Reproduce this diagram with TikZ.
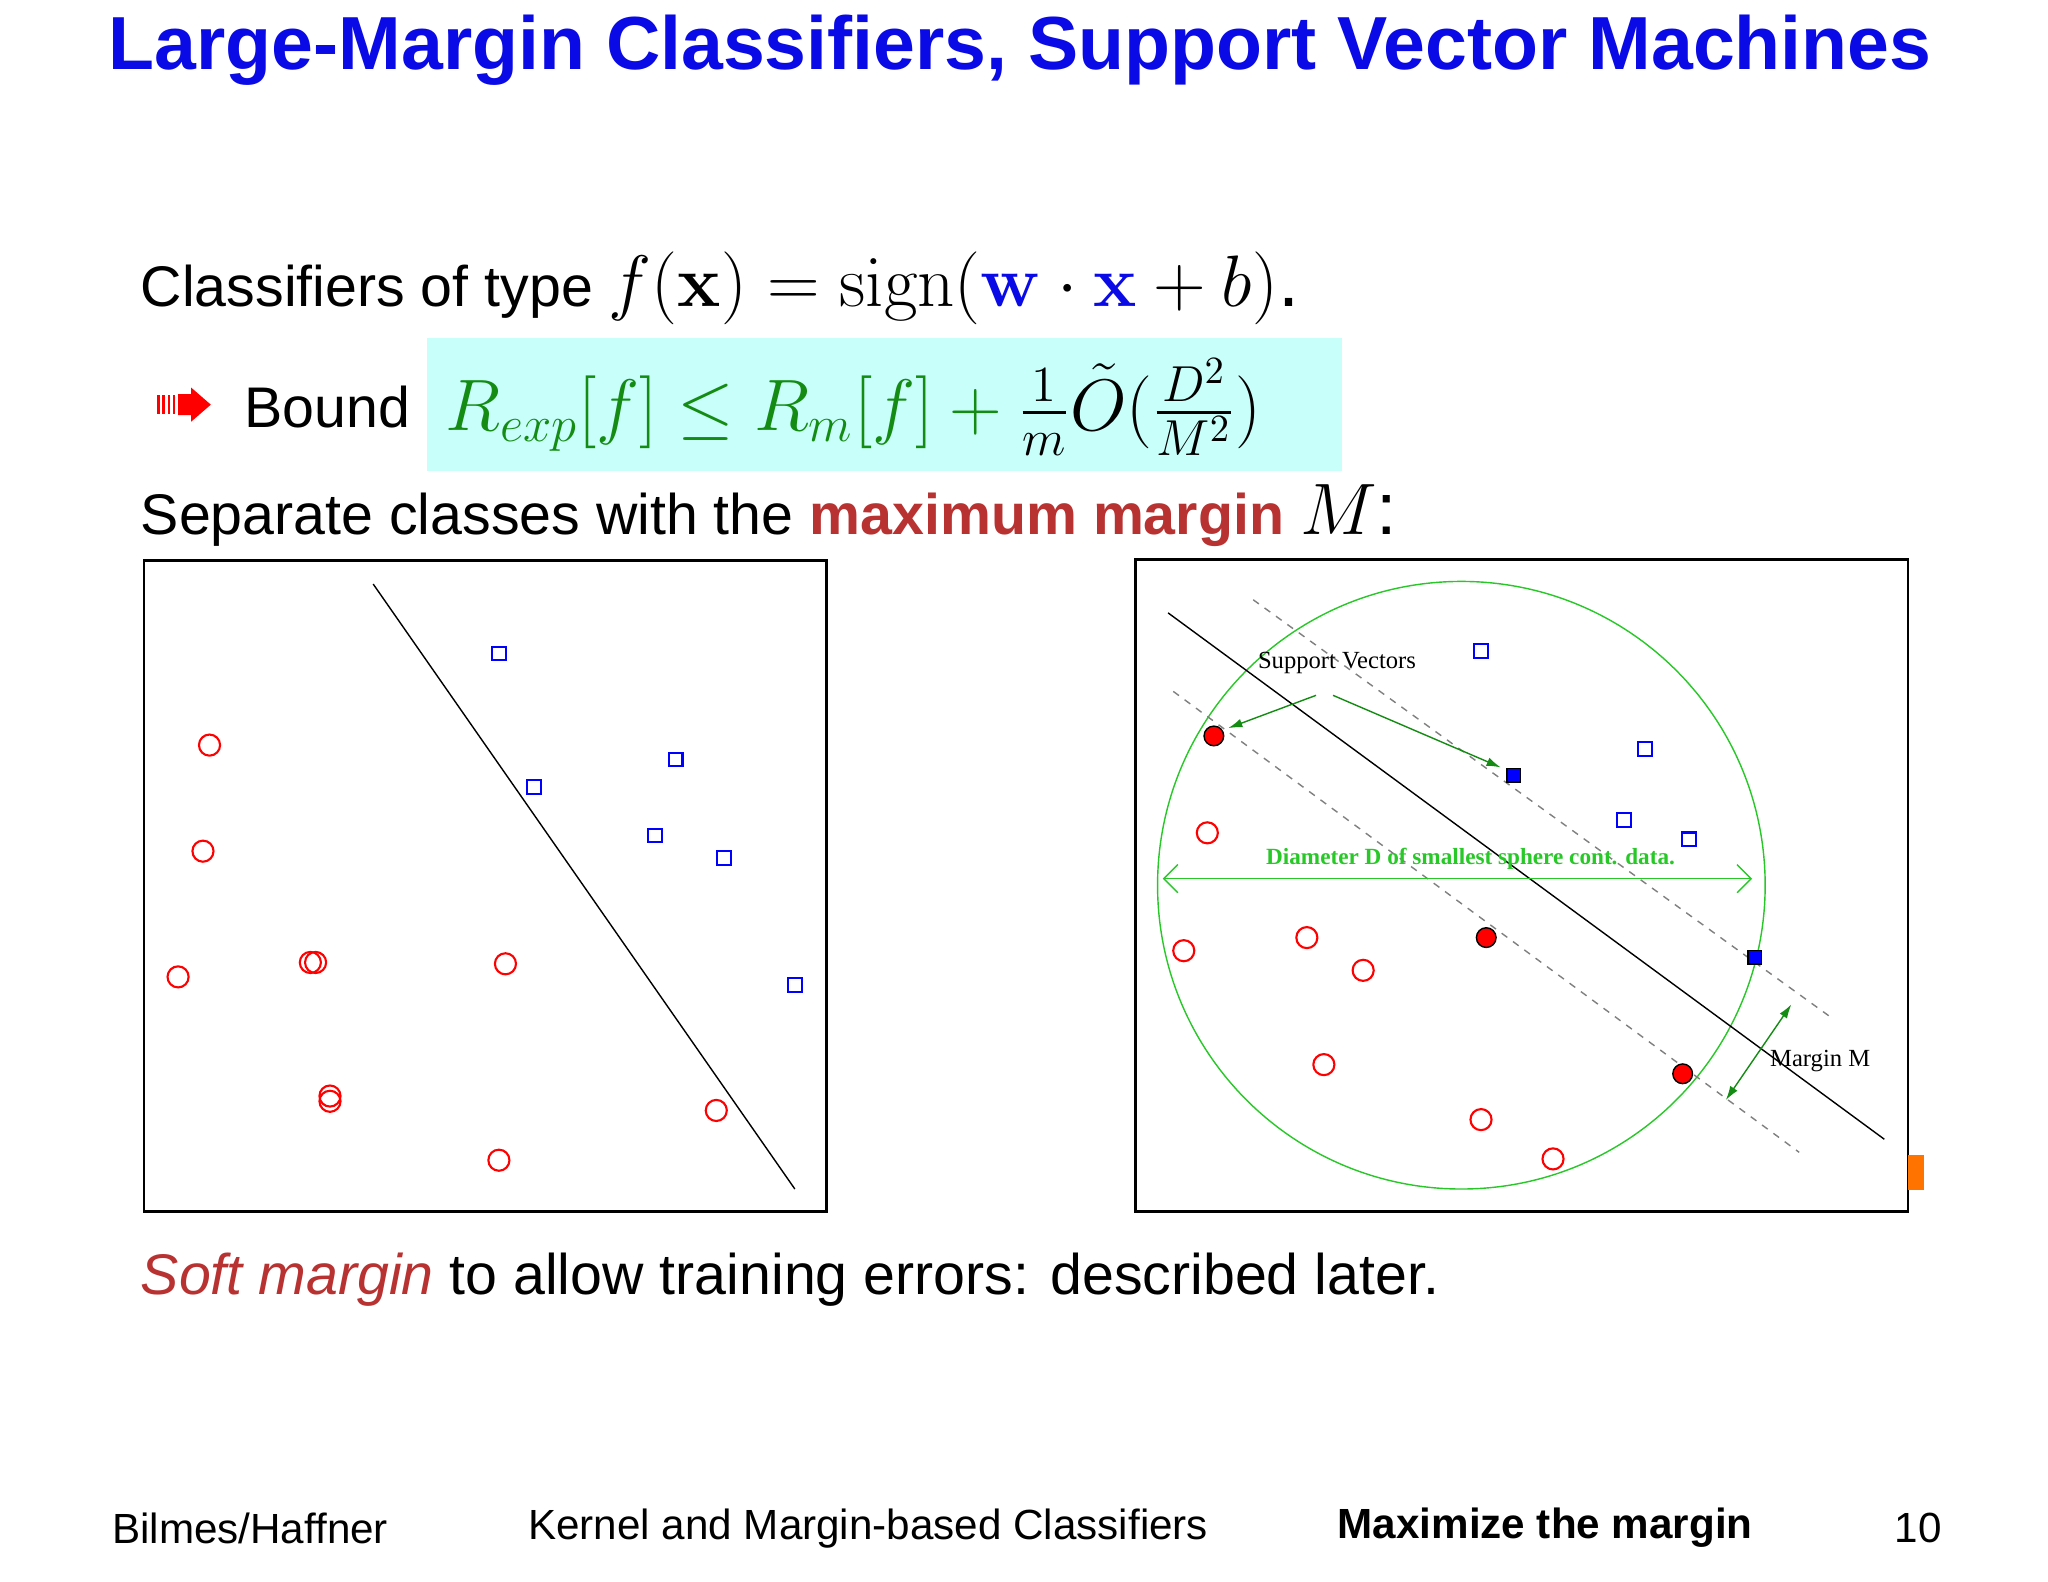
\documentclass[tikz,border=0pt]{standalone}
\usepackage{amsmath}
\usepackage[no-math]{fontspec}
\setmainfont{Liberation Sans}
\newfontfamily\tms{Liberation Serif}
\usetikzlibrary{arrows.meta}
\definecolor{ttl}{RGB}{10,10,230}
\definecolor{mred}{RGB}{185,50,50}
\definecolor{mgreen}{RGB}{20,140,20}
\definecolor{lgreen}{RGB}{40,200,40}
\definecolor{boxc}{RGB}{200,255,250}
\tikzset{
 sq/.style={draw=blue,semithick,minimum size=3.9pt,inner sep=0pt},
 fsq/.style={draw=black,fill=blue,minimum size=3.9pt,inner sep=0pt},
 ci/.style={draw=red,semithick,circle,minimum size=6pt,inner sep=0pt},
 fci/.style={draw=black,fill=red,circle,minimum size=5.6pt,inner sep=0pt},
 body/.style={font=\fontsize{16.3}{19}\selectfont,anchor=west,inner sep=0pt},
 gar/.style={draw=mgreen,thin,-{Latex[length=4pt,width=2.5pt]}},
 sml/.style={font=\tms\fontsize{7}{8}\selectfont}
}
\begin{document}
\begin{tikzpicture}[x=0.01309cm,y=-0.01309cm]
\useasboundingbox[fill=white] (0,0) rectangle (1564,1208);
\node[font=\bfseries\fontsize{21.4}{25}\selectfont,text=ttl] (title) at (779,38) {Large-Margin Classifiers, Support Vector Machines};
\node[body] (l1) at (107,220) {Classifiers of type \fontsize{21.5}{24}\selectfont$f(\mathbf{x})=\mathrm{sign}(\textcolor{ttl}{\mathbf{w}}\cdot\textcolor{ttl}{\mathbf{x}}+b)$.};
\fill[boxc] (326,258) rectangle (1025,360);
\node[body] (bd) at (186,311) {Bound};
\node[body,text=mgreen,font=\fontsize{22.5}{26}\selectfont] (fm) at (340,311) {$\displaystyle R_{exp}[f]\le R_m[f]+\textcolor{black}{\tfrac{1}{m}\tilde O(\tfrac{D^2}{M^2})}$};
% arrow icon
\foreach \x in {120,124,128,132}{\fill[red] (\x,302) rectangle (\x+2,316);}
\fill[red] (136,301) -- (146,301) -- (146,296) -- (161,309) -- (146,322) -- (146,317) -- (136,317) -- cycle;
\node[body] (l3) at (107,394) {Separate classes with the \textcolor{mred}{\bfseries maximum margin} \fontsize{21}{24}\selectfont$M$:};
% left panel
\draw[thick] (110,428) rectangle (631,925);
\coordinate (la) at (285,446); \coordinate (lb) at (607,908);
\draw (la) -- (lb);
\foreach \p/\q in {381/499,408/601,516/580,500/638,553/655,607/752}{\node[sq] at (\p,\q) {};}
\foreach \p/\q in {160/569,155/650,136/746,237/735,241/735,386/736,252/837,252/841,547/848,381/886}{\node[ci] at (\p,\q) {};}
% right panel
\draw[thick] (867,427) rectangle (1457,925);
\draw[lgreen] (1116,676) ellipse (232 and 232);
\coordinate (ra) at (892,468); \coordinate (rb) at (1439,870);
\draw (ra) -- (rb);
\coordinate (ua) at (957,458); \coordinate (ub) at (1397,776);
\coordinate (da) at (896,528); \coordinate (db) at (1374,880);
\draw[gray,dash pattern=on 2pt off 2pt] (ua) -- (ub);
\draw[gray,dash pattern=on 2pt off 2pt] (da) -- (db);
\foreach \p/\q in {1131/497,1256/572,1240/626,1290/641}{\node[sq] at (\p,\q) {};}
\node[fsq] (s1) at (1156,592) {};
\node[fsq] (s2) at (1340,731) {};
\foreach \p/\q in {922/636,904/726,998/716,1041/741,1011/813,1131/855,1186/885}{\node[ci] at (\p,\q) {};}
\node[fci] (c1) at (927,562) {};
\node[fci] (c2) at (1135,716) {};
\node[fci] (c3) at (1285,820) {};
\node[sml] (sv) at (1021,506) {Support Vectors};
\coordinate (t1) at (1005,531); \coordinate (h1) at (938,556);
\coordinate (t2) at (1018,531); \coordinate (h2) at (1146,586);
\draw[gar] (t1) -- (h1);
\draw[gar] (t2) -- (h2);
\coordinate (dl) at (888,671); \coordinate (dr) at (1338,671);
\draw[lgreen,{Straight Barb[length=4pt]}-{Straight Barb[length=4pt]}] (dl) -- (dr);
\node[font=\tms\bfseries\fontsize{6.6}{7}\selectfont,text=lgreen] (dlab) at (1123,656) {Diameter D of smallest sphere cont. data.};
\coordinate (m1) at (1318,840); \coordinate (m2) at (1368,767);
\draw[gar,{Latex[length=4pt,width=2.5pt]}-{Latex[length=4pt,width=2.5pt]}] (m1) -- (m2);
\node[sml] (ml) at (1390,810) {Margin M};
\fill[orange!90!red] (1457,882) rectangle (1469,909);
\node[body] (l4) at (107,977) {\textcolor{mred}{\itshape Soft margin} to allow training errors: described later.};
\node[font=\fontsize{12}{14}\selectfont] (f1) at (191,1167) {Bilmes/Haffner};
\node[font=\fontsize{12}{14}\selectfont] (f2) at (663,1167) {Kernel and Margin-based Classifiers};
\node[font=\bfseries\fontsize{12}{14}\selectfont] (f3) at (1180,1167) {Maximize the margin};
\node[font=\fontsize{12}{14}\selectfont] (f4) at (1465,1167) {10};
\end{tikzpicture}
\end{document}
